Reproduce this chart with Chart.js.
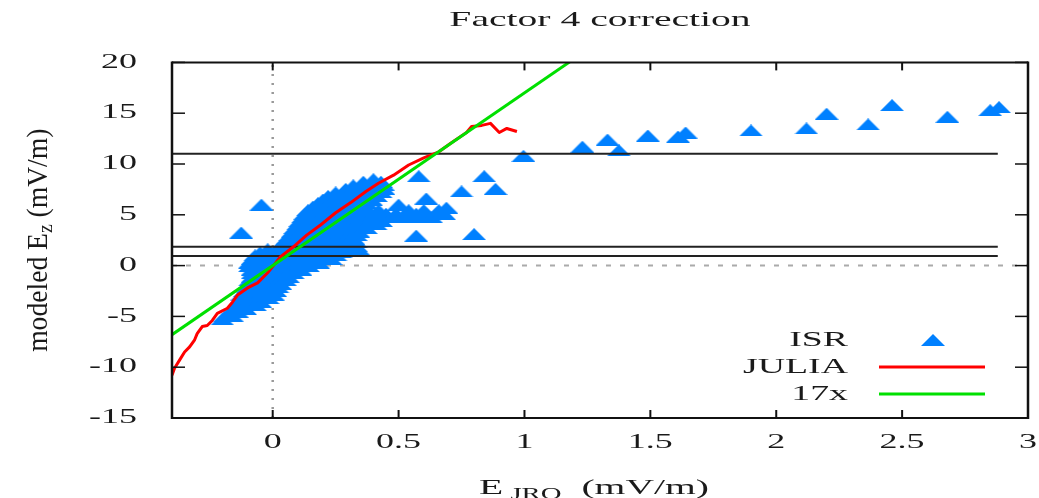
<!DOCTYPE html>
<html>
<head>
<meta charset="utf-8">
<title>Factor 4 correction</title>
<script src="https://cdn.jsdelivr.net/npm/chart.js@4.4.1/dist/chart.umd.min.js"></script>
<style>
  html, body { margin: 0; padding: 0; background: #fff; }
</style>
</head>
<body>
<canvas id="chart" width="1039" height="498"></canvas>
<script>
// axis ticks
const xTicks = [0, 0.5, 1, 1.5, 2, 2.5, 3];
const yTicks = [-15, -10, -5, 0, 5, 10, 15, 20];

// horizontal reference levels (black lines) and where they stop
const refLevels = [11, 1.85, 0.95];
const refLineEnd = 2.88;

// 17x line, end points
const fitX = [-0.4, 1.18];
const fitY = [-6.8, 20.06];

// JULIA curve
const juliaPoints = [
  [-0.4, -10.8], [-0.39, -10.1], [-0.37, -9.3], [-0.35, -8.5], [-0.33, -8.0],
  [-0.31, -7.3], [-0.30, -6.7], [-0.28, -6.0], [-0.26, -5.9], [-0.24, -5.4],
  [-0.22, -4.7], [-0.18, -4.2], [-0.16, -3.6], [-0.14, -2.9], [-0.10, -2.2],
  [-0.06, -1.7], [-0.02, -0.7], [0, -0.1], [0.03, 0.85], [0.08, 1.8],
  [0.135, 3.0], [0.19, 4.0], [0.25, 5.2], [0.31, 6.2], [0.37, 7.3],
  [0.42, 8.1], [0.48, 8.9], [0.54, 9.9], [0.60, 10.6], [0.66, 11.2],
  [0.71, 12.1], [0.77, 13.1], [0.79, 13.7], [0.83, 13.8], [0.865, 14.0],
  [0.90, 13.1], [0.93, 13.5], [0.97, 13.2]
];

// ISR dense cloud, one row per level: [y, [x values]]
const isrCloud = [
  [-5.3, [-0.20]],
  [-5.0, [-0.19, -0.16]],
  [-4.6, [-0.17, -0.14]],
  [-4.25, [-0.15, -0.11]],
  [-3.9, [-0.14, -0.10, -0.07]],
  [-3.55, [-0.13, -0.09, -0.05]],
  [-3.2, [-0.12, -0.08, -0.04, -0.02]],
  [-2.85, [-0.12, -0.08, -0.04, 0.00]],
  [-2.5, [-0.11, -0.07, -0.03, 0.01]],
  [-2.15, [-0.10, -0.06, -0.02, 0.02]],
  [-1.8, [-0.09, -0.05, -0.01, 0.03]],
  [-1.45, [-0.09, -0.05, -0.01, 0.03, 0.05]],
  [-1.1, [-0.08, -0.04, 0.00, 0.04, 0.06]],
  [-0.75, [-0.08, -0.04, 0.00, 0.04, 0.08]],
  [-0.4, [-0.08, -0.04, 0.00, 0.04, 0.08, 0.11]],
  [-0.05, [-0.09, -0.05, -0.01, 0.03, 0.07, 0.11, 0.14]],
  [0.3, [-0.09, -0.05, -0.01, 0.03, 0.07, 0.11, 0.15, 0.18]],
  [0.65, [-0.08, -0.04, 0.00, 0.04, 0.08, 0.12, 0.16, 0.20, 0.23]],
  [1.0, [-0.07, -0.03, 0.01, 0.05, 0.09, 0.13, 0.17, 0.21, 0.25]],
  [1.3, [-0.05, -0.01, 0.03, 0.07, 0.11, 0.15, 0.19, 0.23, 0.27]],
  [1.6, [-0.02, 0.02, 0.06, 0.10, 0.14, 0.18, 0.22, 0.26, 0.30, 0.34]],
  [1.95, [0.03, 0.07, 0.11, 0.15, 0.19, 0.23, 0.27, 0.31, 0.33]],
  [2.3, [0.05, 0.09, 0.13, 0.17, 0.21, 0.25, 0.29, 0.33]],
  [2.65, [0.06, 0.10, 0.14, 0.18, 0.22, 0.26, 0.30, 0.32]],
  [3.0, [0.07, 0.11, 0.15, 0.19, 0.23, 0.27, 0.31, 0.33]],
  [3.35, [0.08, 0.12, 0.16, 0.20, 0.24, 0.28, 0.32, 0.34]],
  [3.7, [0.09, 0.13, 0.17, 0.21, 0.25, 0.29, 0.33, 0.37]],
  [4.05, [0.10, 0.14, 0.18, 0.22, 0.26, 0.30, 0.34, 0.38, 0.41]],
  [4.4, [0.11, 0.15, 0.19, 0.23, 0.27, 0.31, 0.35, 0.39, 0.43]],
  [4.75, [0.12, 0.16, 0.20, 0.24, 0.28, 0.32, 0.36, 0.40, 0.44, 0.48, 0.52, 0.56, 0.60, 0.63]],
  [5.1, [0.13, 0.17, 0.21, 0.25, 0.29, 0.33, 0.37, 0.41, 0.45, 0.49, 0.53, 0.57, 0.61, 0.65, 0.68]],
  [5.45, [0.14, 0.18, 0.22, 0.26, 0.30, 0.34, 0.38, 0.42, 0.54, 0.60, 0.66]],
  [5.8, [0.16, 0.20, 0.24, 0.28, 0.32, 0.36]],
  [6.15, [0.18, 0.22, 0.26, 0.30, 0.34, 0.37]],
  [6.5, [0.20, 0.24, 0.28, 0.32, 0.36, 0.39]],
  [6.85, [0.22, 0.26, 0.30, 0.34, 0.38, 0.41]],
  [7.2, [0.25, 0.29, 0.33, 0.37, 0.41, 0.43]],
  [7.55, [0.29, 0.33, 0.37, 0.41, 0.44]],
  [7.9, [0.32, 0.36, 0.40, 0.44]],
  [8.25, [0.36, 0.40, 0.43]],
  [8.5, [0.40]]
];

// ISR isolated points
const isrScatter = [
  [-0.125, 3.25], [-0.045, 6.0],
  [0.50, 6.0], [0.57, 2.95], [0.58, 8.8], [0.61, 6.6], [0.69, 5.7], [0.75, 7.3],
  [0.80, 3.1], [0.84, 8.8], [0.885, 7.55], [0.996, 10.8],
  [1.23, 11.7], [1.33, 12.4], [1.375, 11.35], [1.49, 12.8], [1.61, 12.7], [1.64, 13.1],
  [1.90, 13.3], [2.12, 13.5], [2.20, 14.95], [2.365, 13.9], [2.46, 15.8], [2.68, 14.65],
  [2.85, 15.3], [2.885, 15.6]
];

const FONT = "'Liberation Serif', 'DejaVu Serif', serif";
const TEXT = '#1a1a1a';
const BLUE = '#0080ff';
const RED = '#ff0000';
const GREEN = '#00e000';
const STRETCH = 1.8; // the picture's text is drawn wide

const canvas = document.getElementById('chart');
const ctx = canvas.getContext('2d');

// widen every horizontal text the chart writes
const rawFillText = ctx.fillText;
const rawMeasureText = ctx.measureText;
ctx.fillText = function (text, x, y) {
  this.save();
  this.translate(x, y);
  this.scale(STRETCH, 1);
  rawFillText.call(this, text, 0, 0);
  this.restore();
};
ctx.measureText = function (text) {
  const m = rawMeasureText.call(this, text);
  return {
    width: m.width * STRETCH,
    actualBoundingBoxAscent: m.actualBoundingBoxAscent,
    actualBoundingBoxDescent: m.actualBoundingBoxDescent
  };
};

// flat triangle marker
function triangleMarker(w, h, color) {
  const c = document.createElement('canvas');
  c.width = w;
  c.height = h;
  const g = c.getContext('2d');
  g.fillStyle = color;
  g.beginPath();
  g.moveTo(0, h);
  g.lineTo(w / 2, 0);
  g.lineTo(w, h);
  g.closePath();
  g.fill();
  return c;
}
const triangle = triangleMarker(24, 12, BLUE);

const isrData = [];
isrCloud.forEach(([y, xs]) => xs.forEach((x) => isrData.push({ x, y })));
isrScatter.forEach(([x, y]) => isrData.push({ x, y }));

const lineDefaults = { showLine: true, pointRadius: 0, pointHoverRadius: 0, fill: false };

const datasets = [
  {
    label: 'ISR',
    data: isrData,
    pointStyle: triangle,
    pointRadius: 6,
    pointHoverRadius: 6,
    order: 5
  },
  {
    ...lineDefaults,
    label: 'JULIA',
    data: juliaPoints.map(([x, y]) => ({ x, y })),
    borderColor: RED,
    borderWidth: 3,
    borderJoinStyle: 'round',
    order: 2
  },
  {
    ...lineDefaults,
    label: '17x',
    data: fitX.map((x, i) => ({ x, y: fitY[i] })),
    borderColor: GREEN,
    borderWidth: 3,
    order: 1
  },
  {
    ...lineDefaults,
    label: 'zero x',
    data: [{ x: 0, y: -15 }, { x: 0, y: 20 }],
    borderColor: '#999',
    borderWidth: 2.5,
    borderDash: [2, 7],
    order: 6
  },
  {
    ...lineDefaults,
    label: 'zero y',
    data: [{ x: -0.4, y: 0 }, { x: 3, y: 0 }],
    borderColor: '#aaa',
    borderWidth: 2,
    borderDash: [5, 9],
    order: 6
  }
];
refLevels.forEach((level) => {
  datasets.push({
    ...lineDefaults,
    label: 'level ' + level,
    data: [{ x: -0.4, y: level }, { x: refLineEnd, y: level }],
    borderColor: '#222',
    borderWidth: 2,
    order: 4
  });
});

// box, inner ticks, axis titles and legend like the original plot
const framePlugin = {
  id: 'frame',
  afterDatasetsDraw(chart) {
    const c = chart.ctx;
    const a = chart.chartArea;
    const sx = chart.scales.x;
    const sy = chart.scales.y;
    const seg = (x1, y1, x2, y2) => {
      c.beginPath();
      c.moveTo(x1, y1);
      c.lineTo(x2, y2);
      c.stroke();
    };
    c.save();
    c.strokeStyle = '#111';
    c.lineWidth = 2;
    xTicks.forEach((v) => {
      const px = sx.getPixelForValue(v);
      seg(px, a.bottom, px, a.bottom - 8);
      seg(px, a.top, px, a.top + 8);
    });
    c.lineWidth = 1.5;
    yTicks.forEach((v) => {
      const py = sy.getPixelForValue(v);
      seg(a.left, py, a.left + 13, py);
      seg(a.right, py, a.right - 13, py);
    });
    c.lineWidth = 2.5;
    seg(a.left, a.top - 1, a.left, a.bottom + 1);
    seg(a.right, a.top - 1, a.right, a.bottom + 1);
    c.lineWidth = 2;
    seg(a.left, a.top, a.right, a.top);
    seg(a.left, a.bottom, a.right, a.bottom);

    // legend
    c.fillStyle = TEXT;
    c.font = '21px ' + FONT;
    c.textAlign = 'right';
    c.textBaseline = 'middle';
    const rows = [a.bottom - 78, a.bottom - 51, a.bottom - 24];
    const textX = a.right - 180;
    chart.data.datasets.slice(0, 3).forEach((ds, i) => {
      c.fillText(ds.label, textX, rows[i]);
      if (i === 0) {
        c.drawImage(triangle, a.right - 95 - 12, rows[i] - 6);
      } else {
        c.strokeStyle = ds.borderColor;
        c.lineWidth = 3;
        seg(a.right - 149, rows[i], a.right - 43, rows[i]);
      }
    });
    c.restore();
  },
  afterDraw(chart) {
    const c = chart.ctx;
    const a = chart.chartArea;
    c.save();
    c.fillStyle = TEXT;
    c.textBaseline = 'alphabetic';
    c.textAlign = 'left';

    // x title: E_JRO (mV/m)
    const xParts = [['E', 22, 0], [' JRO', 16, 5], ['  (mV/m)', 22, 0]];
    let total = 0;
    xParts.forEach((p) => {
      c.font = p[1] + 'px ' + FONT;
      p.push(c.measureText(p[0]).width);
      total += p[3];
    });
    let px = (a.left + a.right) / 2 - 6 - total / 2;
    xParts.forEach((p) => {
      c.font = p[1] + 'px ' + FONT;
      c.fillText(p[0], px, 494 + p[2]);
      px += p[3];
    });

    // y title: modeled E_z (mV/m), rotated
    const yParts = [['modeled E', 24, 0], ['z', 17, 4], [' (mV/m)', 24, 0]];
    total = 0;
    yParts.forEach((p) => {
      c.font = p[1] + 'px ' + FONT;
      p.push(rawMeasureText.call(c, p[0]).width);
      total += p[3];
    });
    c.translate(47, (a.top + a.bottom) / 2);
    c.rotate(-Math.PI / 2);
    c.scale(1.15, 1.27);
    px = -total / 2;
    yParts.forEach((p) => {
      c.font = p[1] + 'px ' + FONT;
      rawFillText.call(c, p[0], px, p[2]);
      px += p[3];
    });
    c.restore();
  }
};

const tickFont = { family: FONT, size: 20 };

new Chart(ctx, {
  type: 'scatter',
  data: { datasets },
  options: {
    responsive: false,
    animation: false,
    events: [],
    layout: { padding: { top: 0, right: 11, bottom: 0, left: 0 } },
    plugins: {
      legend: { display: false },
      tooltip: { enabled: false },
      title: {
        display: true,
        text: 'Factor 4 correction',
        fullSize: false,
        color: TEXT,
        font: { family: FONT, size: 22, weight: 'normal' },
        padding: { top: 7, bottom: 29 }
      }
    },
    scales: {
      x: {
        type: 'linear',
        min: -0.4,
        max: 3,
        grid: { display: false, drawTicks: false },
        border: { display: false },
        afterBuildTicks: (s) => { s.ticks = xTicks.map((value) => ({ value })); },
        afterFit: (s) => {
          s.height = 80;
          s.paddingLeft = 0;
          s.paddingRight = 0;
        },
        ticks: {
          padding: 13,
          color: TEXT,
          font: tickFont,
          autoSkip: false,
          maxRotation: 0,
          callback: (v) => String(v)
        }
      },
      y: {
        type: 'linear',
        min: -15,
        max: 20,
        grid: { display: false, drawTicks: false },
        border: { display: false },
        afterBuildTicks: (s) => { s.ticks = yTicks.map((value) => ({ value })); },
        afterFit: (s) => { s.width = 172; },
        ticks: {
          padding: 35,
          color: TEXT,
          font: tickFont,
          autoSkip: false,
          callback: (v) => String(v)
        }
      }
    }
  },
  plugins: [framePlugin]
});
</script>
</body>
</html>
